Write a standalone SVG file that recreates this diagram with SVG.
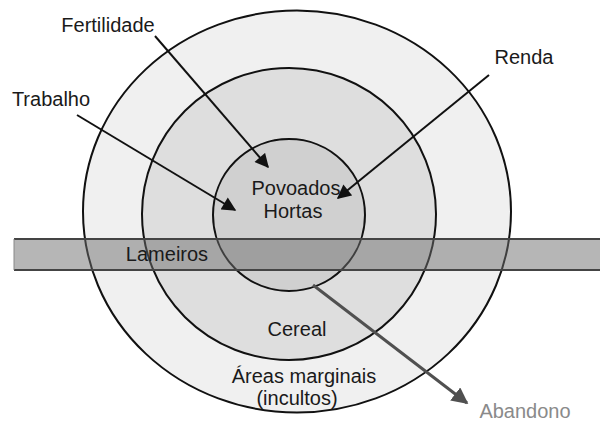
<svg xmlns="http://www.w3.org/2000/svg" width="600" height="424" viewBox="0 0 600 424">
<style>
text{font-family:"Liberation Sans",Arial,sans-serif;font-size:20px;fill:#1a1a1a}
.ring{stroke:#111;stroke-width:2}
.arr{stroke:#111;stroke-width:2;fill:none}
</style>
<defs>
<marker id="ah" viewBox="0 0 10 10" refX="9" refY="5" markerWidth="7.5" markerHeight="7" markerUnits="strokeWidth" orient="auto">
<path d="M0,0 L10,5 L0,10 Z" fill="#111"/>
</marker>
<marker id="ahg" viewBox="0 0 10 10" refX="9" refY="5" markerWidth="5.5" markerHeight="5.5" markerUnits="strokeWidth" orient="auto">
<path d="M0,0 L10,5 L0,10 Z" fill="#505050"/>
</marker>
</defs>
<rect width="600" height="424" fill="#ffffff"/>
<g id="outer-ring"><ellipse cx="297" cy="211.5" rx="214" ry="201" fill="#f0f0f0" class="ring"/></g>
<g id="middle-ring"><ellipse cx="289" cy="214" rx="147" ry="146" fill="#dedede" class="ring"/></g>
<g id="inner-circle"><circle cx="289" cy="215" r="76" fill="#d0d0d0" class="ring"/></g>
<g id="band">
<rect x="14" y="239" width="586" height="31" fill="#6e6e6e" fill-opacity="0.5"/>
<line x1="14" y1="239" x2="600" y2="239" stroke="#444" stroke-width="2"/>
<line x1="14" y1="270" x2="600" y2="270" stroke="#444" stroke-width="2"/>
<line x1="14" y1="239" x2="14" y2="270" stroke="#888" stroke-width="1"/>
</g>
<g id="labels">
<text x="108" y="32" text-anchor="middle">Fertilidade</text>
<text x="51" y="106" text-anchor="middle">Trabalho</text>
<text x="524" y="64" text-anchor="middle">Renda</text>
<text x="296" y="195" text-anchor="middle">Povoados</text>
<text x="293" y="218" text-anchor="middle">Hortas</text>
<text x="167" y="261" text-anchor="middle">Lameiros</text>
<text x="297" y="336" text-anchor="middle">Cereal</text>
<text x="304" y="383" text-anchor="middle">Áreas marginais</text>
<text x="297" y="405" text-anchor="middle">(incultos)</text>
<text x="525" y="418" text-anchor="middle" style="fill:#8a8a8a">Abandono</text>
</g>
<g id="connectors">
<line class="arr" x1="155" y1="36" x2="268" y2="167" marker-end="url(#ah)"/>
<line class="arr" x1="77" y1="115" x2="235" y2="210" marker-end="url(#ah)"/>
<line class="arr" x1="489" y1="75" x2="338" y2="198" marker-end="url(#ah)"/>
<line x1="313" y1="285" x2="467" y2="403" stroke="#505050" stroke-width="3" marker-end="url(#ahg)"/>
</g>
</svg>
